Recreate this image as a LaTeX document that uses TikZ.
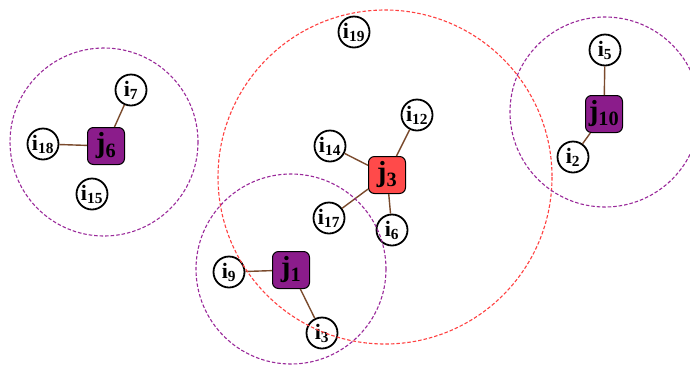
\documentclass[tikz,border=0pt]{standalone}
\usepackage{fontspec}
\setmainfont{Liberation Serif}
\usetikzlibrary{positioning}

\definecolor{jpurple}{HTML}{8B1C8B}
\definecolor{jred}{HTML}{FF4A4A}
\definecolor{linkbrown}{HTML}{7A4A2C}
\definecolor{zonepurple}{HTML}{9A2A9A}
\definecolor{zonered}{HTML}{FF4040}

\newcommand{\lab}[2]{i\textsubscript{#2}}
\newcommand{\jlab}[1]{j\textsubscript{#1}}

\begin{document}
\begin{tikzpicture}[
    x=1pt, y=-1pt,
    item/.style={circle, draw, line width=1.8pt, fill=white, minimum size=31pt, inner sep=0pt, font=\bfseries\fontsize{22}{22}\selectfont},
    job/.style={rectangle, rounded corners=6pt, draw, line width=1pt, fill=jpurple, minimum size=37pt, inner sep=0pt, font=\bfseries\fontsize{29}{29}\selectfont},
    hot/.style={fill=jred},
    link/.style={draw=linkbrown, line width=1.4pt},
    zone/.style={draw=zonepurple, line width=1.1pt, dash pattern=on 3.5pt off 2pt},
    hotzone/.style={draw=zonered, line width=1.1pt, dash pattern=on 3.5pt off 2pt}
]
\useasboundingbox (0,0) rectangle (690,365);

% jobs
\node[job] (j6) at (106,146) {\jlab{6}};
\node[job, hot] (j3) at (387,175) {\jlab{3}};
\node[job] (j1) at (291,270) {\jlab{1}};
\node[job] (j10) at (604,114) {\jlab{10}};

% items
\node[item] (i7) at (131,90) {\lab{i}{7}};
\node[item] (i18) at (43,144) {\lab{i}{18}};
\node[item] (i15) at (92,194) {\lab{i}{15}};
\node[item] (i19) at (354,32) {\lab{i}{19}};
\node[item] (i12) at (417,115) {\lab{i}{12}};
\node[item] (i14) at (330,146) {\lab{i}{14}};
\node[item] (i17) at (329,218) {\lab{i}{17}};
\node[item] (i6) at (392,230) {\lab{i}{6}};
\node[item] (i9) at (229,272) {\lab{i}{9}};
\node[item] (i3) at (322,333) {\lab{i}{3}};
\node[item] (i5) at (605,50) {\lab{i}{5}};
\node[item] (i2) at (573,157) {\lab{i}{2}};

% links
\draw[link] (j6) -- (i7);
\draw[link] (j6) -- (i18);
\draw[link] (j3) -- (i12);
\draw[link] (j3) -- (i14);
\draw[link] (j3) -- (i17);
\draw[link] (j3) -- (i6);
\draw[link] (j1) -- (i9);
\draw[link] (j1) -- (i3);
\draw[link] (j10) -- (i5);
\draw[link] (j10) -- (i2);

% ranges
\draw[zone] (104,142) circle (94);
\draw[hotzone] (385,177) circle (167);
\draw[zone] (291,269) circle (95);
\draw[zone] (605,112) circle (95);

\end{tikzpicture}
\end{document}
